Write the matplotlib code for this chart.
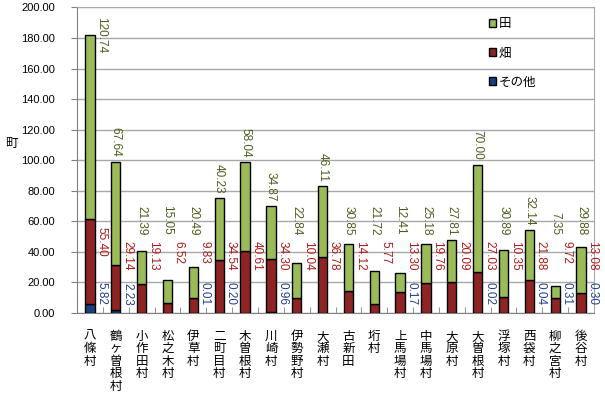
import numpy as np
import matplotlib.pyplot as plt
from matplotlib.ticker import FixedLocator, FormatStrFormatter

plt.rcParams['font.family'] = ['Noto Sans CJK JP', 'DejaVu Sans']

# --- data (町) ---
villages = ["八條村", "鶴ヶ曽根村", "小作田村", "松之木村", "伊草村", "二町目村",
            "木曽根村", "川崎村", "伊勢野村", "大瀬村", "古新田", "垳村",
            "上馬場村", "中馬場村", "大原村", "大曽根村", "浮塚村", "西袋村",
            "柳之宮村", "後谷村"]
ta = [120.74, 67.64, 21.39, 15.05, 20.49, 40.23, 58.04, 34.87, 22.84, 46.11,
      30.85, 21.72, 12.41, 25.18, 27.81, 70.00, 30.89, 32.14, 7.35, 29.88]
hata = [55.40, 29.14, 19.13, 6.52, 9.83, 34.54, 40.61, 34.30, 10.04, 36.78,
        14.12, 5.77, 13.30, 19.76, 20.09, 27.03, 10.35, 21.88, 9.72, 13.08]
sonota = [5.82, 2.23, None, None, 0.01, 0.20, None, 0.96, None, None,
          None, None, 0.17, None, None, 0.02, None, 0.04, 0.31, 0.30]

c_ta, c_hata, c_other = '#9BBB59', '#8E2424', '#17427E'
lc_ta, lc_hata, lc_other = '#4A5E1C', '#B01818', '#1F3F8F'

x = np.arange(len(villages))
oth = np.array([v if v is not None else 0 for v in sonota])
hat = np.array(hata)
tav = np.array(ta)

fig = plt.figure(figsize=(6.05, 3.94), dpi=100)
ax = fig.add_axes([0.1273, 0.2056, 0.8545, 0.7754])

w = 0.36
kw = dict(width=w, edgecolor='black', linewidth=1, zorder=3)
ax.bar(x, oth, color=c_other, label='その他', **kw)
ax.bar(x, hat, bottom=oth, color=c_hata, label='畑', **kw)
ax.bar(x, tav, bottom=oth + hat, color=c_ta, label='田', **kw)

# data labels (rotated, reading downward)
lab = dict(rotation=270, fontsize=8.5, family=['Liberation Sans'], zorder=4)
for i in x:
    total = oth[i] + hat[i] + tav[i]
    if total + 30 > 197:
        ax.text(i + 0.44, 194, f"{ta[i]:.2f}", color=lc_ta, ha='center', va='top', **lab)
    else:
        ax.text(i, max(total + 3, 51), f"{ta[i]:.2f}", color=lc_ta, ha='center', va='bottom', **lab)
    ax.text(i + 0.44, max(hata[i] + 1, 47), f"{hata[i]:.2f}", color=lc_hata,
            ha='center', va='top', **lab)
    if sonota[i] is not None:
        ax.text(i + 0.44, 5, f"{sonota[i]:.2f}", color=lc_other, ha='center', va='bottom', **lab)

ax.set_xlim(-0.5, len(villages) - 0.5)
ax.set_ylim(0, 200)
ax.yaxis.set_major_locator(FixedLocator(np.arange(0, 201, 20)))
ax.yaxis.set_major_formatter(FormatStrFormatter('%.2f'))
ax.grid(axis='y', color='#A8A8A8', linewidth=1, zorder=0)
ax.set_axisbelow(True)

ax.set_xticks(x)
ax.set_xticklabels(["\n".join(v) for v in villages], fontsize=9, va='top',
                   linespacing=0.95)
ax.xaxis.set_minor_locator(FixedLocator(np.arange(-0.5, len(villages), 1)))
ax.tick_params(axis='x', which='major', length=0, pad=12)
ax.tick_params(axis='x', which='minor', direction='in', length=4, color='#808080')
ax.tick_params(axis='y', direction='out', length=4, color='#808080', pad=12,
               labelsize=8)
for t in ax.get_yticklabels():
    t.set_family(['Liberation Sans'])

for s in ['left', 'bottom']:
    ax.spines[s].set_color('#808080')
for s in ['top', 'right']:
    ax.spines[s].set_color('#A8A8A8')

ax.text(-0.128, 0.556, '町', transform=ax.transAxes, fontsize=9,
        ha='center', va='center')

h, l = ax.get_legend_handles_labels()
ax.legend(h[::-1], l[::-1], loc='upper left', bbox_to_anchor=(0.775, 1.005),
          frameon=False, fontsize=9, handlelength=0.6, handleheight=0.6,
          handletextpad=0.2, labelspacing=1.3)

fig.savefig('out.png', dpi=100)
